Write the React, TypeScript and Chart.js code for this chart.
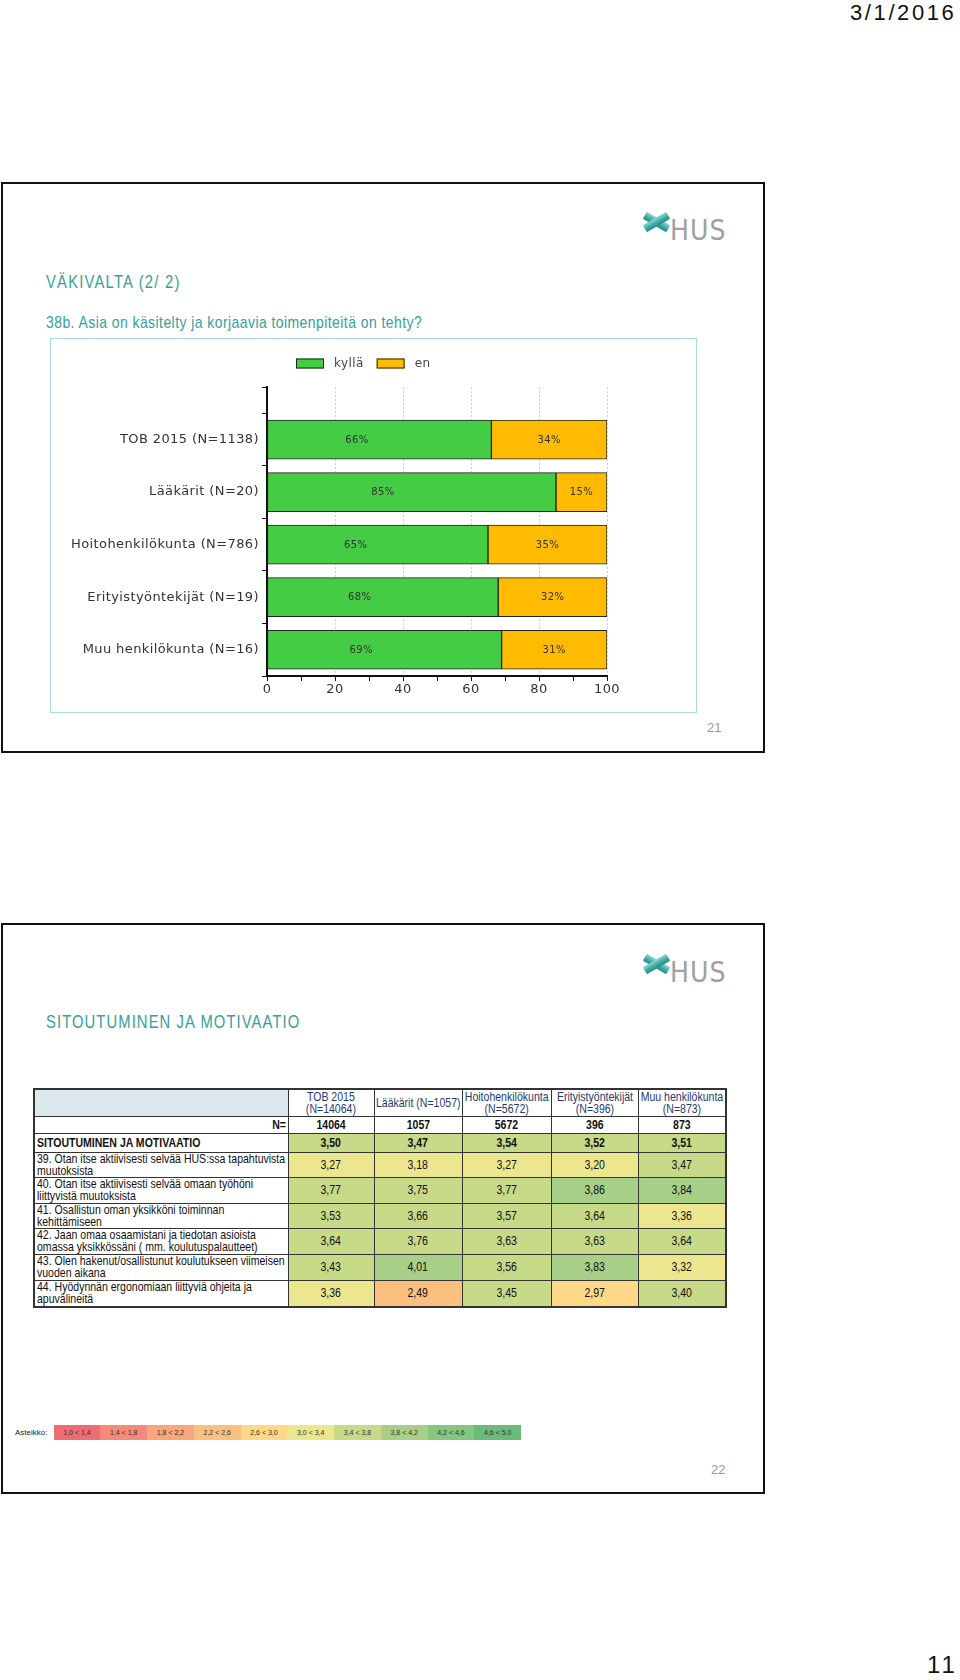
import React, { useEffect, useRef } from "react";
import { Chart, registerables } from "chart.js";

Chart.register(...registerables);

// ---------- Slide 21 chart data ----------
const groups = [
  "TOB 2015 (N=1138)",
  "Lääkärit (N=20)",
  "Hoitohenkilökunta (N=786)",
  "Erityistyöntekijät (N=19)",
  "Muu henkilökunta (N=16)",
];
const kylla = [66, 85, 65, 68, 69];
const en = [34, 15, 35, 32, 31];
const seriesNames = ["kyllä", "en"];
const seriesColors = ["#44cc44", "#ffbb00"];

// ---------- Slide 22 table data ----------
const tableColumns = [
  "TOB 2015\n(N=14064)",
  "Lääkärit (N=1057)",
  "Hoitohenkilökunta\n(N=5672)",
  "Erityistyöntekijät\n(N=396)",
  "Muu henkilökunta\n(N=873)",
];
const tableN = [14064, 1057, 5672, 396, 873];
const summaryLabel = "SITOUTUMINEN JA MOTIVAATIO";
const summaryValues = [3.5, 3.47, 3.54, 3.52, 3.51];
const questionLabels = [
  "39. Otan itse aktiivisesti selvää HUS:ssa tapahtuvista\nmuutoksista",
  "40. Otan itse aktiivisesti selvää omaan työhöni\nliittyvistä muutoksista",
  "41. Osallistun oman yksikköni toiminnan\nkehittämiseen",
  "42. Jaan omaa osaamistani ja tiedotan asioista\nomassa yksikkössäni ( mm. koulutuspalautteet)",
  "43. Olen hakenut/osallistunut koulutukseen viimeisen\nvuoden aikana",
  "44. Hyödynnän ergonomiaan liittyviä ohjeita ja\napuvälineitä",
];
const q39 = [3.27, 3.18, 3.27, 3.2, 3.47];
const q40 = [3.77, 3.75, 3.77, 3.86, 3.84];
const q41 = [3.53, 3.66, 3.57, 3.64, 3.36];
const q42 = [3.64, 3.76, 3.63, 3.63, 3.64];
const q43 = [3.43, 4.01, 3.56, 3.83, 3.32];
const q44 = [3.36, 2.49, 3.45, 2.97, 3.4];
const questionValues = [q39, q40, q41, q42, q43, q44];

// colour scale ("Asteikko")
const scaleBounds = [1.0, 1.4, 1.8, 2.2, 2.6, 3.0, 3.4, 3.8, 4.2, 4.6, 5.0];
const scaleLabels = [
  "1,0 < 1,4", "1,4 < 1,8", "1,8 < 2,2", "2,2 < 2,6", "2,6 < 3,0",
  "3,0 < 3,4", "3,4 < 3,8", "3,8 < 4,2", "4,2 < 4,6", "4,6 < 5,0",
];
const scaleColors = [
  "#f06c74", "#f58a7a", "#f8a67d", "#fbc080", "#fdd886",
  "#ece68e", "#c7da88", "#a8cf87", "#88c57f", "#6bbc7b",
];

const CONDENSED = "'DejaVu Sans Condensed', 'DejaVu Sans', sans-serif";
const SANS = "'Liberation Sans', Arial, sans-serif";
const DEJAVU = "'DejaVu Sans', Verdana, sans-serif";
const TEAL = "#35a09a";

function colorFor(v: number): string {
  for (let i = 0; i < scaleColors.length; i++) {
    if (v >= scaleBounds[i] && v < scaleBounds[i + 1]) return scaleColors[i];
  }
  return scaleColors[scaleColors.length - 1];
}
const fmt = (v: number) => v.toFixed(2).replace(".", ",");

// Arial-Narrow look: Liberation Sans squeezed horizontally
function Narrow({
  children,
  align = "left",
  squeeze = 0.82,
  style,
}: {
  children: React.ReactNode;
  align?: "left" | "center" | "right";
  squeeze?: number;
  style?: React.CSSProperties;
}) {
  const justify = align === "left" ? "flex-start" : align === "center" ? "center" : "flex-end";
  return (
    <div style={{ display: "flex", justifyContent: justify, width: "100%" }}>
      <span
        style={{
          display: "inline-block",
          flex: "none",
          whiteSpace: "pre",
          fontFamily: SANS,
          transform: `scaleX(${squeeze})`,
          transformOrigin: align,
          textAlign: align,
          ...style,
        }}
      >
        {children}
      </span>
    </div>
  );
}

function BarChart() {
  const ref = useRef<HTMLCanvasElement>(null);
  useEffect(() => {
    const canvas = ref.current!;
    const yMin = -1;
    const yMax = groups.length - 0.5;
    const yTickValues = [yMin, ...groups.flatMap((_, i) => [i - 0.5, i]), yMax];

    const spacingPlugin = {
      id: "spacing",
      beforeDraw(chart: any) {
        chart.ctx.letterSpacing = "0.4px";
      },
    };
    const labelPlugin = {
      id: "barLabels",
      afterDatasetsDraw(chart: any) {
        const ctx = chart.ctx;
        ctx.save();
        ctx.font = `10px ${DEJAVU}`;
        ctx.fillStyle = "#333";
        ctx.textAlign = "center";
        ctx.textBaseline = "middle";
        chart.data.datasets.forEach((ds: any, di: number) => {
          const meta = chart.getDatasetMeta(di);
          meta.data.forEach((el: any, i: number) => {
            const p = el.getProps(["x", "base", "y"], true);
            const frac = di === 0 ? 0.4 : 0.5;
            const lx = p.base + (p.x - p.base) * frac;
            ctx.fillText(ds.data[i].x + "%", lx, p.y + 0.5);
          });
        });
        ctx.restore();
      },
    };
    const legendPlugin = {
      id: "customLegend",
      afterDraw(chart: any) {
        const ctx = chart.ctx;
        ctx.save();
        ctx.font = `12px ${DEJAVU}`;
        ctx.textBaseline = "middle";
        ctx.textAlign = "left";
        let x = 245;
        const y = 24.5;
        chart.data.datasets.forEach((ds: any) => {
          ctx.fillStyle = ds.backgroundColor;
          ctx.fillRect(x, y - 5, 28, 10);
          ctx.strokeStyle = "#222";
          ctx.lineWidth = 1;
          ctx.strokeRect(x + 0.5, y - 4.5, 27, 9);
          x += 38;
          ctx.fillStyle = "#444";
          ctx.fillText(ds.label, x, y);
          x += ctx.measureText(ds.label).width + 13;
        });
        ctx.restore();
      },
    };

    const chart = new Chart(canvas, {
      type: "bar",
      data: {
        datasets: [
          {
            label: seriesNames[0],
            data: kylla.map((v, i) => ({ x: v, y: i })),
            backgroundColor: seriesColors[0],
            borderColor: "#222",
            borderWidth: 1,
            borderSkipped: false,
            barThickness: 39,
          },
          {
            label: seriesNames[1],
            data: en.map((v, i) => ({ x: v, y: i })),
            backgroundColor: seriesColors[1],
            borderColor: "#222",
            borderWidth: 1,
            borderSkipped: false,
            barThickness: 39,
          },
        ],
      } as any,
      options: {
        indexAxis: "y",
        responsive: false,
        animation: false,
        events: [],
        layout: { padding: { top: 48, right: 89, bottom: 11, left: 0 } },
        plugins: { legend: { display: false }, tooltip: { enabled: false } },
        scales: {
          x: {
            type: "linear",
            stacked: true,
            min: 0,
            max: 100,
            offset: false,
            ticks: {
              stepSize: 10,
              autoSkip: false,
              padding: 1,
              color: "#333",
              font: { family: DEJAVU, size: 13 },
              callback: (v: any) => (v % 20 === 0 ? String(v) : ""),
            },
            grid: {
              color: (c: any) => {
                const v = c.tick ? c.tick.value : 0;
                return v > 0 && v % 20 === 0 ? "#cfcfcf" : "rgba(0,0,0,0)";
              },
              lineWidth: 1,
              drawTicks: true,
              tickLength: 5,
              tickColor: "#111",
              tickWidth: 1,
            },
            border: { display: true, color: "#111", width: 2, dash: [2, 2] },
            afterFit: (s: any) => {
              s.height = 25;
            },
          },
          y: {
            type: "linear",
            stacked: true,
            reverse: true,
            offset: false,
            bounds: "data",
            min: yMin,
            max: yMax,
            afterBuildTicks: (s: any) => {
              s.ticks = yTickValues.map((value) => ({ value }));
              s.min = yMin;
              s.max = yMax;
            },
            ticks: {
              autoSkip: false,
              padding: 3,
              color: "#333",
              font: { family: DEJAVU, size: 13 },
              callback: (v: any) => (Number.isInteger(v) && v >= 0 ? groups[v] : ""),
            },
            grid: {
              offset: false,
              drawOnChartArea: false,
              drawTicks: true,
              tickLength: 5,
              tickWidth: 1,
              tickColor: (c: any) =>
                c.tick && Number.isInteger(c.tick.value) && c.tick.value >= 0 ? "rgba(0,0,0,0)" : "#111",
            },
            border: { display: true, color: "#111", width: 2 },
            afterFit: (s: any) => {
              s.width = 216;
            },
          },
        },
      } as any,
      plugins: [spacingPlugin, labelPlugin, legendPlugin],
    });
    return () => chart.destroy();
  }, []);
  return <canvas ref={ref} width={645} height={373} style={{ display: "block" }} />;
}

function HusLogo({ left, top }: { left: number; top: number }) {
  const bar = (rot: number): React.CSSProperties => ({
    position: "absolute",
    left: 0,
    top: 7,
    width: 27,
    height: 8,
    background: "linear-gradient(180deg, #8fd6cf 0%, #3aa8a0 60%, #1e8f88 100%)",
    transform: `rotate(${rot}deg)`,
    borderRadius: 1,
  });
  return (
    <>
      <div style={{ position: "absolute", left, top, width: 27, height: 22 }}>
        <div style={bar(30)} />
        <div style={bar(-30)} />
      </div>
      <div
        style={{
          position: "absolute",
          left: left + 27,
          top: top + 6,
          fontFamily: CONDENSED,
          fontSize: 28,
          lineHeight: "28px",
          color: "#a0a0a0",
          letterSpacing: 1,
        }}
      >
        HUS
      </div>
    </>
  );
}

function DataTable() {
  const border = "1px solid #333";
  const colW = [254, 86, 88, 89, 87, 88];
  const SQ = 0.81;
  const cellBase: React.CSSProperties = {
    border,
    padding: "0 2px",
    fontFamily: SANS,
    fontSize: 13,
    lineHeight: "12px",
    color: "#111",
    overflow: "visible",
  };
  const valCell = (v: number): React.CSSProperties => ({
    ...cellBase,
    background: colorFor(v),
  });
  const qHeights = [25, 26, 25, 26, 26, 27];
  return (
    <table
      style={{
        position: "absolute",
        left: 33,
        top: 1088,
        width: 692,
        borderCollapse: "collapse",
        tableLayout: "fixed",
        border: "2px solid #333",
      }}
    >
      <colgroup>
        {colW.map((w, i) => (
          <col key={i} style={{ width: w }} />
        ))}
      </colgroup>
      <tbody>
        <tr style={{ height: 27 }}>
          <td style={{ ...cellBase, background: "#dbe8ee" }} />
          {tableColumns.map((c, i) => (
            <td key={i} style={{ ...cellBase, padding: 0, color: "#1f3a70" }}>
              <Narrow align="center" squeeze={SQ}>
                {c}
              </Narrow>
            </td>
          ))}
        </tr>
        <tr style={{ height: 17 }}>
          <td style={cellBase}>
            <Narrow align="right" squeeze={SQ} style={{ fontWeight: "bold" }}>
              N=
            </Narrow>
          </td>
          {tableN.map((n, i) => (
            <td key={i} style={cellBase}>
              <Narrow align="center" squeeze={SQ} style={{ fontWeight: "bold" }}>
                {String(n)}
              </Narrow>
            </td>
          ))}
        </tr>
        <tr style={{ height: 19 }}>
          <td style={cellBase}>
            <Narrow squeeze={SQ} style={{ fontWeight: "bold" }}>
              {summaryLabel}
            </Narrow>
          </td>
          {summaryValues.map((v, i) => (
            <td key={i} style={valCell(v)}>
              <Narrow align="center" squeeze={SQ} style={{ fontWeight: "bold" }}>
                {fmt(v)}
              </Narrow>
            </td>
          ))}
        </tr>
        {questionLabels.map((q, r) => (
          <tr key={r} style={{ height: qHeights[r] }}>
            <td style={cellBase}>
              <Narrow squeeze={SQ}>{q}</Narrow>
            </td>
            {questionValues[r].map((v, i) => (
              <td key={i} style={valCell(v)}>
                <Narrow align="center" squeeze={SQ}>
                  {fmt(v)}
                </Narrow>
              </td>
            ))}
          </tr>
        ))}
      </tbody>
    </table>
  );
}

function ScaleLegend() {
  const cellW = 46.75;
  return (
    <>
      <div
        style={{
          position: "absolute",
          left: 15,
          top: 1427,
          fontFamily: SANS,
          fontSize: 8,
          lineHeight: "11px",
          color: "#222",
        }}
      >
        Asteikko:
      </div>
      {scaleLabels.map((l, i) => (
        <div
          key={i}
          style={{
            position: "absolute",
            left: 53.6 + i * cellW,
            top: 1425,
            width: cellW,
            height: 15,
            background: scaleColors[i],
            fontFamily: SANS,
            fontSize: 7,
            lineHeight: "15px",
            textAlign: "center",
            color: "#333",
          }}
        >
          {l}
        </div>
      ))}
    </>
  );
}

export default function App() {
  const abs = (s: React.CSSProperties): React.CSSProperties => ({ position: "absolute", ...s });
  return (
    <div style={{ position: "absolute", left: 0, top: 0, width: 960, height: 1680, background: "#fff", overflow: "hidden" }}>
      <div style={abs({ left: 850, top: 2, fontFamily: SANS, fontSize: 22, lineHeight: "22px", color: "#111", letterSpacing: 2.6 })}>
        3/1/2016
      </div>

      {/* Slide 21 */}
      <div style={abs({ left: 1, top: 182, width: 764, height: 571, border: "2px solid #111", boxSizing: "border-box" })} />
      <HusLogo left={643} top={211} />
      <div style={abs({ left: 46, top: 272, width: 400, fontSize: 18, lineHeight: "20px", color: TEAL })}>
        <Narrow style={{ letterSpacing: 1.5 }}>VÄKIVALTA (2/ 2)</Narrow>
      </div>
      <div style={abs({ left: 46, top: 313, width: 500, fontSize: 17, lineHeight: "20px", color: TEAL })}>
        <Narrow style={{ letterSpacing: 0.55 }}>38b. Asia on käsitelty ja korjaavia toimenpiteitä on tehty?</Narrow>
      </div>
      <div style={abs({ left: 50, top: 338, width: 647, height: 375, border: "1px solid #a6dede", boxSizing: "border-box" })}>
        <BarChart />
      </div>
      <div style={abs({ left: 707, top: 720, fontFamily: SANS, fontSize: 13, lineHeight: "16px", color: "#999" })}>21</div>

      {/* Slide 22 */}
      <div style={abs({ left: 1, top: 923, width: 764, height: 571, border: "2px solid #111", boxSizing: "border-box" })} />
      <HusLogo left={643} top={953} />
      <div style={abs({ left: 46, top: 1012, width: 400, fontSize: 18, lineHeight: "20px", color: TEAL })}>
        <Narrow style={{ letterSpacing: 1.35 }}>SITOUTUMINEN JA MOTIVAATIO</Narrow>
      </div>
      <DataTable />
      <ScaleLegend />
      <div style={abs({ left: 711, top: 1462, fontFamily: SANS, fontSize: 13, lineHeight: "16px", color: "#999" })}>22</div>

      <div style={abs({ left: 927, top: 1652, fontFamily: SANS, fontSize: 24, lineHeight: "26px", color: "#111", letterSpacing: 3 })}>
        11
      </div>
    </div>
  );
}
